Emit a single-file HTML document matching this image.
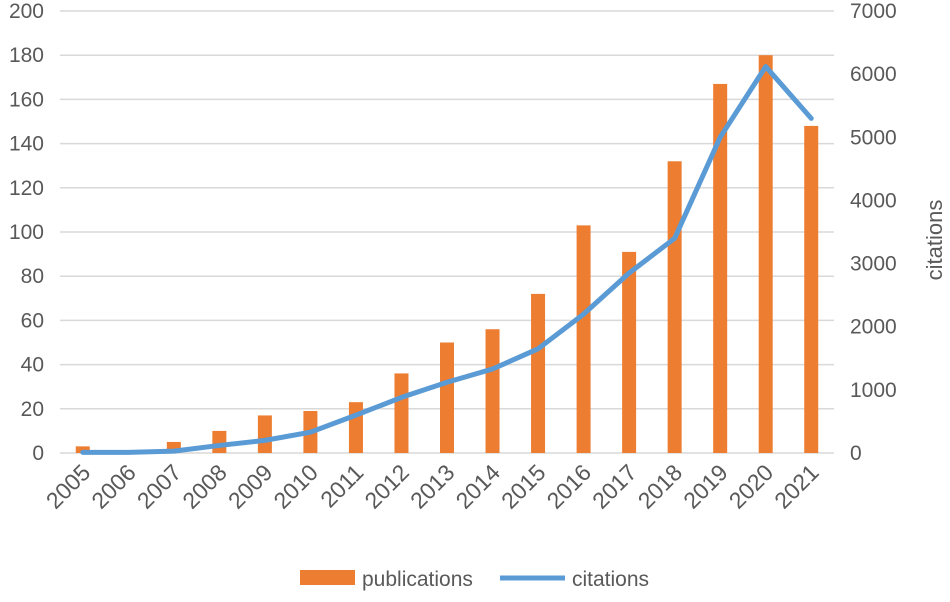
<!DOCTYPE html>
<html><head><meta charset="utf-8"><style>
body{margin:0;background:#fff;}
svg text{font-family:"Liberation Sans",sans-serif;fill:#595959;}
</style></head><body>
<svg id="chart" width="950" height="597" xmlns="http://www.w3.org/2000/svg"></svg>
<script>
const years=["2005","2006","2007","2008","2009","2010","2011","2012","2013","2014","2015","2016","2017","2018","2019","2020","2021"];
const publications=[3,1,5,10,17,19,23,36,50,56,72,103,91,132,167,180,148];
const citations=[10,10,30,120,200,330,600,880,1120,1330,1650,2200,2850,3400,5000,6120,5300];
const leftTicks=[0,20,40,60,80,100,120,140,160,180,200];
const rightTicks=[0,1000,2000,3000,4000,5000,6000,7000];
const svg=document.getElementById('chart');const NS='http://www.w3.org/2000/svg';
const X0=60,X1=834,Y0=453,Y1=11;
const step=(X1-X0)/years.length;
const xc=i=>X0+step*(i+0.5);
const yL=v=>Y0-(v/200)*(Y0-Y1);
const yR=v=>Y0-(v/7000)*(Y0-Y1);
function mk(t,a,txt){const e=document.createElementNS(NS,t);for(const k in a)e.setAttribute(k,a[k]);if(txt!=null)e.textContent=txt;svg.appendChild(e);return e;}
leftTicks.forEach(v=>{
 const g=mk('line',{x1:X0,x2:X1,y1:yL(v),y2:yL(v),stroke:'#d9d9d9','stroke-width':1.5});
 
 
 const t=mk('text',{x:44,y:yL(v)+7,'text-anchor':'end','font-size':21},v);
 
 
});
rightTicks.forEach(v=>{
 const t=mk('text',{x:850,y:yR(v)+7,'font-size':21},v);
 
 
});
const rt=mk('text',{x:942,y:240,'font-size':22,'text-anchor':'middle',transform:'rotate(-90 942 240)'},'citations');


publications.forEach((v,i)=>{
 const b=mk('rect',{x:xc(i)-7,y:yL(v),width:14,height:Y0-yL(v),fill:'#ed7d31'});
 
 
});
const pl=mk('polyline',{points:citations.map((v,i)=>xc(i)+','+yR(v)).join(' '),fill:'none',stroke:'#5b9bd5','stroke-width':5,'stroke-linejoin':'round','stroke-linecap':'round'});


years.forEach((y,i)=>{
 const x=xc(i)+9,yy=474;
 const t=mk('text',{x:x,y:yy,'font-size':23,'text-anchor':'end',transform:`rotate(-45 ${x} ${yy})`},y);
 
 
});
const l1=mk('rect',{x:300,y:570,width:55,height:15,fill:'#ed7d31'});


const l2=mk('text',{x:362,y:586,'font-size':21},'publications');


const l3=mk('line',{x1:500,x2:565,y1:578,y2:578,stroke:'#5b9bd5','stroke-width':5});


const l4=mk('text',{x:572,y:586,'font-size':21},'citations');


</script>
</body></html>
